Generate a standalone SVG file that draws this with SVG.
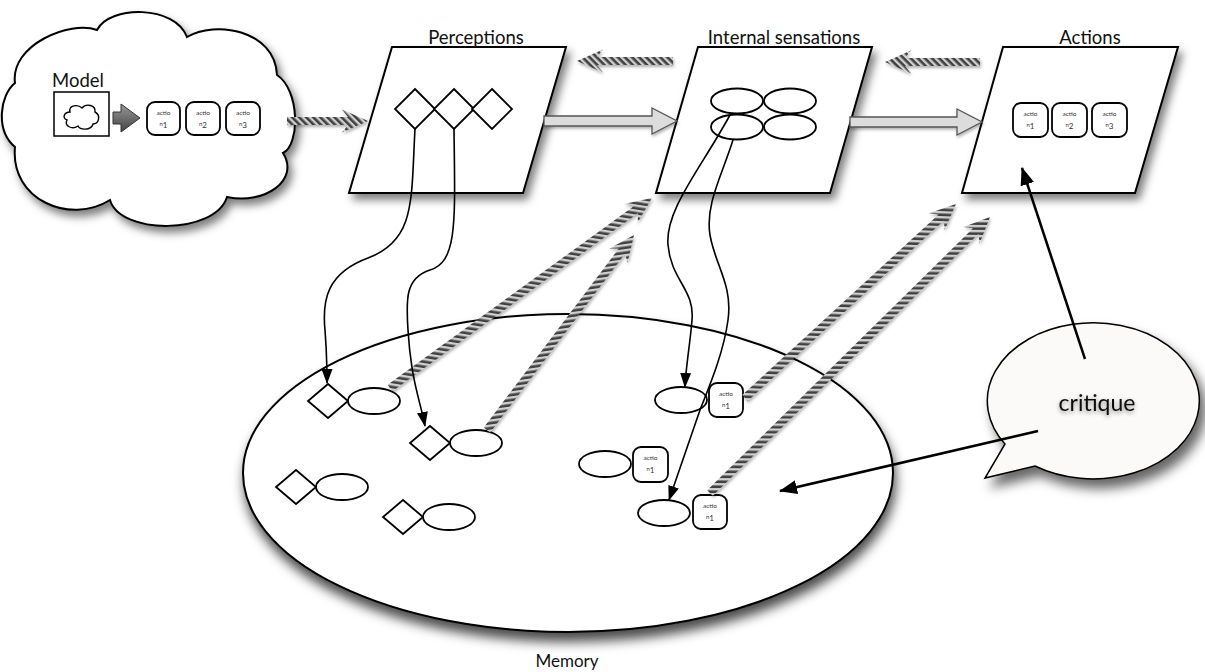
<svg xmlns="http://www.w3.org/2000/svg" width="1205" height="672" viewBox="0 0 1205 672">
<style>
.t{font-family:Lato,"Liberation Sans",sans-serif;fill:#111}
.shape{fill:#fff;stroke:#000;stroke-width:2}
.thin{fill:#fff;stroke:#000;stroke-width:1.8}
.box{fill:#fff;stroke:#000;stroke-width:1.8}
.bt{font-family:Lato,"Liberation Sans",sans-serif;fill:#333;text-anchor:middle}
.curve{fill:none;stroke:#000;stroke-width:1.6}
.hatch{fill:url(#hp);filter:url(#hs)}
.block{fill:#dcdcdc;stroke:#555;stroke-width:1.3;filter:url(#hs)}
</style>
<defs>
<filter id="sh" x="-15%" y="-15%" width="140%" height="150%"><feDropShadow dx="4" dy="6" stdDeviation="4" flood-color="#000" flood-opacity="0.5"/></filter>
<filter id="shm" x="-10%" y="-10%" width="130%" height="135%"><feDropShadow dx="2" dy="9" stdDeviation="6" flood-color="#000" flood-opacity="0.7"/></filter>
<filter id="shc" x="-20%" y="-20%" width="150%" height="160%"><feDropShadow dx="6" dy="9" stdDeviation="6" flood-color="#000" flood-opacity="0.6"/></filter>
<filter id="hs" x="-10%" y="-60%" width="130%" height="260%"><feDropShadow dx="1" dy="2" stdDeviation="1.5" flood-color="#000" flood-opacity="0.3"/></filter>
<filter id="ts" x="-20%" y="-50%" width="140%" height="220%"><feDropShadow dx="0" dy="2" stdDeviation="2" flood-color="#000" flood-opacity="0.45"/></filter>
<pattern id="hp" width="5" height="5" patternUnits="userSpaceOnUse" patternTransform="rotate(-45)">
<rect width="5" height="5" fill="#d0d0d0"/><rect width="2.6" height="5" fill="#3f3f3f"/>
</pattern>
<linearGradient id="mg" x1="0" y1="0" x2="0" y2="1"><stop offset="0" stop-color="#999"/><stop offset="1" stop-color="#444"/></linearGradient>
<marker id="ah" markerWidth="15" markerHeight="11" viewBox="0 0 15 11" refX="14" refY="5.5" orient="auto" markerUnits="userSpaceOnUse"><path d="M0,0 L15,5.5 L0,11 Z" fill="#000"/></marker>
<marker id="ahb" markerWidth="18" markerHeight="14" viewBox="0 0 18 14" refX="17" refY="7" orient="auto" markerUnits="userSpaceOnUse"><path d="M0,0 L18,7 L0,14 Z" fill="#000"/></marker>
</defs>
<rect width="1205" height="672" fill="#fff"/>

<g id="model">
<path class="shape" filter="url(#sh)" d="M15,83 C10,45 70,20 97,30 C110,5 175,5 187,37 C215,20 275,30 277,75 C300,90 300,145 283,153 C300,180 265,205 227,197 C215,235 120,235 110,200 C70,225 10,200 15,147 C-5,130 0,95 15,83 Z"/>
<text class="t" x="78" y="87" font-size="18.5" text-anchor="middle">Model</text>
<rect x="54" y="92" width="55" height="44" fill="#fff" stroke="#000" stroke-width="1.5"/>
<path fill="#fff" stroke="#000" stroke-width="1.4" d="M70,112 C68,105 78,104 82,108 C86,103 96,105 95,112 C101,115 99,124 93,124 C91,131 80,130 78,126 C72,130 64,126 67,120 C62,118 64,112 70,112 Z"/>
<path d="M113,112 H121 V104 L140,118 L121,132 V124 H113 Z" fill="url(#mg)" stroke="#333" stroke-width="1"/>
<rect class="box" x="147" y="102" width="33" height="33" rx="8"/>
<rect class="box" x="186" y="102" width="34" height="33" rx="8"/>
<rect class="box" x="226" y="102" width="34" height="33" rx="8"/>
<text class="bt" x="163.5" y="115" font-size="6.5">actio</text>
<text class="bt" x="163.5" y="126" font-size="6">n<tspan font-size="8" dy="2">1</tspan></text>
<text class="bt" x="203" y="115" font-size="6.5">actio</text>
<text class="bt" x="203" y="126" font-size="6">n<tspan font-size="8" dy="2">2</tspan></text>
<text class="bt" x="243" y="115" font-size="6.5">actio</text>
<text class="bt" x="243" y="126" font-size="6">n<tspan font-size="8" dy="2">3</tspan></text>
</g>

<g id="memory">
<ellipse class="shape" filter="url(#shm)" cx="568" cy="473" rx="325" ry="159"/>
<text class="t" x="567" y="667" font-size="17" text-anchor="middle">Memory</text>
<g class="thin">
<path d="M328,384 L348,401 L328,418 L308,401 Z"/><ellipse cx="374" cy="401" rx="26" ry="13"/>
<path d="M430,426 L450,443 L430,460 L410,443 Z"/><ellipse cx="476" cy="443" rx="26" ry="13"/>
<path d="M296,470 L316,487 L296,504 L276,487 Z"/><ellipse cx="342" cy="487" rx="26" ry="13"/>
<path d="M403,500 L423,517 L403,534 L383,517 Z"/><ellipse cx="449" cy="517" rx="26" ry="13"/>
<ellipse cx="681" cy="400" rx="26" ry="13"/>
<ellipse cx="605" cy="464" rx="26" ry="13"/>
<ellipse cx="664" cy="513" rx="26" ry="13"/>
</g>
<rect class="box" x="709" y="383" width="34" height="34" rx="8"/>
<rect class="box" x="633" y="447" width="35" height="35" rx="8"/>
<rect class="box" x="693" y="495" width="34" height="34" rx="8"/>
<text class="bt" x="726" y="396" font-size="6.5">actio</text>
<text class="bt" x="726" y="407" font-size="6">n<tspan font-size="8" dy="2">1</tspan></text>
<text class="bt" x="650.5" y="460" font-size="6.5">actio</text>
<text class="bt" x="650.5" y="471" font-size="6">n<tspan font-size="8" dy="2">1</tspan></text>
<text class="bt" x="710" y="508" font-size="6.5">actio</text>
<text class="bt" x="710" y="519" font-size="6">n<tspan font-size="8" dy="2">1</tspan></text>
</g>

<g id="perceptions">
<polygon class="shape" filter="url(#sh)" points="392,47 566,47 523,193 349,193"/>
<text class="t" x="476" y="44" font-size="18.5" text-anchor="middle">Perceptions</text>
<g class="thin">
<path d="M415,89 L435,109 L415,129 L395,109 Z"/>
<path d="M454,89 L474,109 L454,129 L434,109 Z"/>
<path d="M492,89 L512,109 L492,129 L472,109 Z"/>
</g>
</g>

<g id="internal-sensations">
<polygon class="shape" filter="url(#sh)" points="698,47 872,47 830,193 656,193"/>
<text class="t" x="784" y="44" font-size="18.5" text-anchor="middle">Internal sensations</text>
<g class="thin" fill="none">
<ellipse cx="737" cy="101" rx="26" ry="12.5"/>
<ellipse cx="790" cy="101" rx="26" ry="12.5"/>
<ellipse cx="737" cy="127" rx="26" ry="12.5"/>
<ellipse cx="790" cy="127" rx="26" ry="12.5"/>
</g>
</g>

<g id="actions">
<polygon class="shape" filter="url(#sh)" points="1003,47 1178,47 1135,193 962,193"/>
<text class="t" x="1090" y="44" font-size="18.5" text-anchor="middle">Actions</text>
<rect class="box" x="1013" y="103" width="35" height="34" rx="8"/>
<rect class="box" x="1052" y="103" width="35" height="34" rx="8"/>
<rect class="box" x="1092" y="103" width="35" height="34" rx="8"/>
<text class="bt" x="1030.5" y="116" font-size="6.5">actio</text>
<text class="bt" x="1030.5" y="127" font-size="6">n<tspan font-size="8" dy="2">1</tspan></text>
<text class="bt" x="1069.5" y="116" font-size="6.5">actio</text>
<text class="bt" x="1069.5" y="127" font-size="6">n<tspan font-size="8" dy="2">2</tspan></text>
<text class="bt" x="1109.5" y="116" font-size="6.5">actio</text>
<text class="bt" x="1109.5" y="127" font-size="6">n<tspan font-size="8" dy="2">3</tspan></text>
</g>

<g id="critique">
<path fill="#fcfaf8" stroke="#000" stroke-width="1.5" filter="url(#shc)" d="M1005,444 L985,478 L1035,466 A106,78 0 1 0 1005,444 Z"/>
<text class="t" x="1097" y="411" font-size="23" text-anchor="middle" filter="url(#ts)">critique</text>
</g>

<g id="connectors">
<path class="block" d="M544,116 H652 V108 L677,121 L652,134 V126 H544 Z"/>
<path class="block" d="M850,117 H957 V109 L982,122 L957,135 V127 H850 Z"/>
<g class="hatch">
<path transform="translate(287,121)" d="M0,-4 H61 L55,-11.5 L81,0 L55,11.5 L61,4 H0 Z"/>
<path transform="translate(673,61) rotate(180)" d="M0,-4 H76 L70,-11.5 L96,0 L70,11.5 L76,4 H0 Z"/>
<path transform="translate(980,62) rotate(180)" d="M0,-4 H75 L69,-11.5 L95,0 L69,11.5 L75,4 H0 Z"/>
<path transform="translate(390,388) rotate(-35.95)" d="M0,-4 H303.6 L297.6,-11.5 L323.6,0 L297.6,11.5 L303.6,4 H0 Z"/>
<path transform="translate(487,430) rotate(-52.99)" d="M0,-4 H224.2 L218.2,-11.5 L244.2,0 L218.2,11.5 L224.2,4 H0 Z"/>
<path transform="translate(745,398) rotate(-42.6)" d="M0,-4 H266.6 L260.6,-11.5 L286.6,0 L260.6,11.5 L266.6,4 H0 Z"/>
<path transform="translate(710,493) rotate(-44.59)" d="M0,-4 H373.2 L367.2,-11.5 L393.2,0 L367.2,11.5 L373.2,4 H0 Z"/>
</g>
<path class="curve" marker-end="url(#ah)" d="M415,129 C411,200 416,240 368,258 C327,273 322,300 325,330 C327,355 327,370 327,383"/>
<path class="curve" marker-end="url(#ah)" d="M454,129 C455,220 458,262 430,270 C405,278 406,300 408,330 C411,380 420,400 425,426"/>
<path class="curve" marker-end="url(#ah)" d="M730,115 C700,170 665,210 668,245 C671,280 695,290 692,320 C690,345 686,365 685,387"/>
<path class="curve" marker-end="url(#ah)" d="M733,140 C722,175 705,205 710,235 C715,265 733,285 728,320 C724,350 712,380 700,410 L669,500"/>
<path fill="none" stroke="#000" stroke-width="2.5" marker-end="url(#ahb)" d="M1085,359 L1022,168"/>
<path fill="none" stroke="#000" stroke-width="2.5" marker-end="url(#ahb)" d="M1038,431 L780,491"/>
</g>
</svg>
